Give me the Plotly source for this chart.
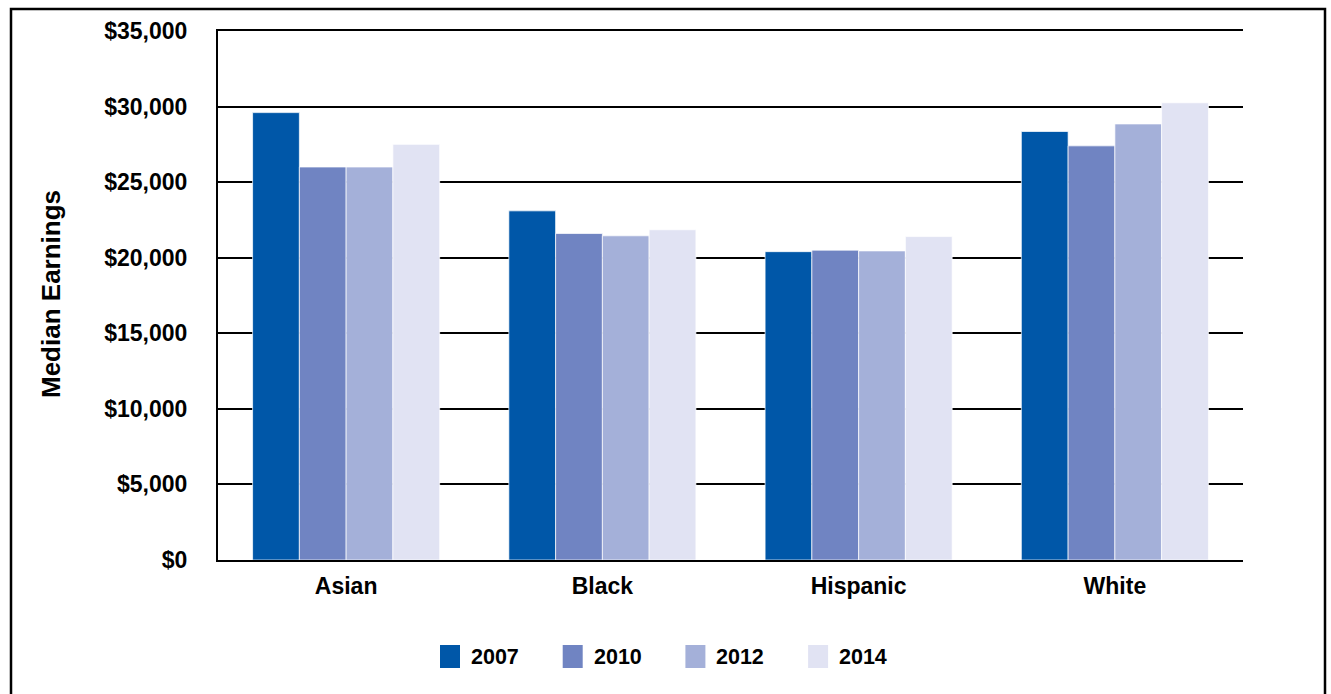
import plotly.graph_objects as go

# Median earnings by race/ethnicity across survey years
groups = ["Asian", "Black", "Hispanic", "White"]
years = ["2007", "2010", "2012", "2014"]
earn_2007 = [29600, 23100, 20400, 28350]
earn_2010 = [26000, 21600, 20500, 27400]
earn_2012 = [26000, 21450, 20450, 28850]
earn_2014 = [27500, 21850, 21400, 30250]
series = [earn_2007, earn_2010, earn_2012, earn_2014]
colors = ["#0057A8", "#7084C2", "#A4B0D9", "#E1E3F3"]
y_ticks = [0, 5000, 10000, 15000, 20000, 25000, 30000, 35000]
y_tick_text = ["$0", "$5,000", "$10,000", "$15,000", "$20,000",
               "$25,000", "$30,000", "$35,000"]

FONT = "Liberation Sans, Arial, sans-serif"
W, H = 1331, 694
ML, MR, MT, MB = 218, 88, 31, 134
PW, PH = W - ML - MR, H - MT - MB


def px_x(x):
    return (x - ML) / PW


def px_y(y):
    return (H - MB - y) / PH


fig = go.Figure()
for name, vals, col in zip(years, series, colors):
    fig.add_trace(go.Bar(
        x=groups, y=vals, name=name, showlegend=False,
        marker=dict(color=col, line=dict(color="rgba(255,255,255,0.7)", width=1)),
    ))

shapes = [
    # outer frame
    dict(type="rect", xref="paper", yref="paper",
         x0=px_x(11), x1=px_x(1325), y0=px_y(710), y1=px_y(9),
         line=dict(color="black", width=2.5), fillcolor="rgba(0,0,0,0)", layer="below"),
]
annotations = []
# key below the plot
for i, (name, col) in enumerate(zip(years, colors)):
    sx = 440 + i * 122.7
    shapes.append(dict(type="rect", xref="paper", yref="paper",
                       x0=px_x(sx), x1=px_x(sx + 20), y0=px_y(668), y1=px_y(645),
                       line=dict(width=0), fillcolor=col))
    annotations.append(dict(xref="paper", yref="paper", x=px_x(sx + 29), y=px_y(657),
                            xanchor="left", yanchor="middle", showarrow=False,
                            text=f"<b>{name}</b>",
                            font=dict(family=FONT, size=21.5, color="black")))

# rotated axis title
annotations.append(dict(xref="paper", yref="paper", x=px_x(51), y=px_y(294),
                        xanchor="center", yanchor="middle", showarrow=False,
                        textangle=-90, text="<b>Median Earnings</b>",
                        font=dict(family=FONT, size=26, color="black")))

fig.update_layout(
    width=W, height=H,
    margin=dict(l=ML, r=MR, t=MT, b=MB),
    paper_bgcolor="white", plot_bgcolor="white",
    barmode="group", bargap=0.27, bargroupgap=0,
    font=dict(family=FONT, color="black"),
    shapes=shapes, annotations=annotations,
    xaxis=dict(
        showline=True, linecolor="black", linewidth=2, mirror=True,
        showgrid=False, ticks="", ticklabelstandoff=4,
        tickfont=dict(family=FONT, size=23, color="black", weight="bold"),
    ),
    yaxis=dict(
        range=[0, 35000], tickvals=y_ticks, ticktext=y_tick_text,
        showline=True, linecolor="black", linewidth=2,
        showgrid=True, gridcolor="black", gridwidth=2,
        zeroline=False, ticks="", ticklabelstandoff=24,
        tickfont=dict(family=FONT, size=23, color="black", weight="bold"),
    ),
)

fig.write_html("out.html")
